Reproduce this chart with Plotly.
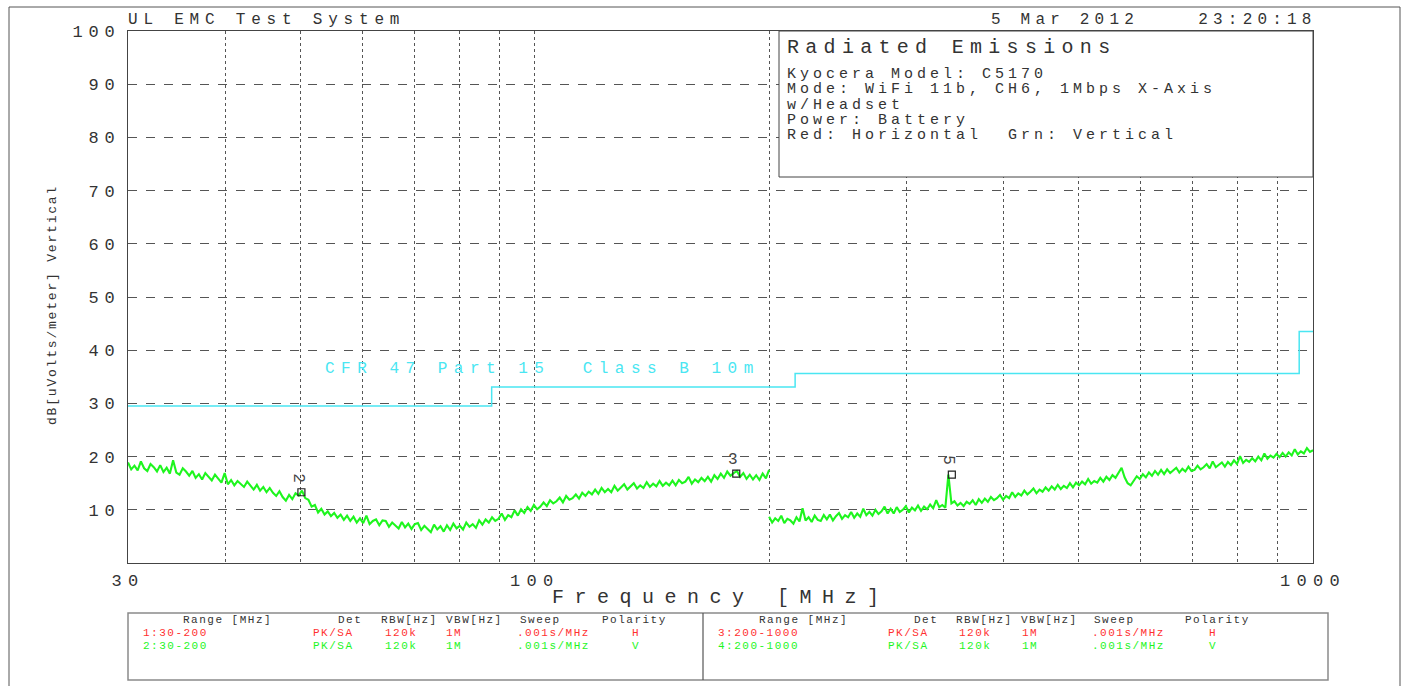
import numpy as np
import plotly.graph_objects as go

# ---------------- data ----------------
# Vertical polarity (green) sweep 30-200 MHz, dBuV/m
seg1_level = [
    18.9, 17.6, 18.3, 17.4, 19.1, 17.8, 17.3, 18.6, 18.0, 17.2,
    18.4, 17.1, 17.9, 16.8, 19.3, 17.0, 16.6, 17.8, 17.2, 16.4,
    17.3, 16.0, 16.7, 15.7, 16.9, 16.2, 15.5, 16.6, 15.9, 15.1,
    16.9, 14.8, 15.6, 14.6, 15.4, 14.9, 14.3, 15.3, 14.6, 13.8,
    14.7, 13.6, 14.3, 13.3, 14.1, 13.2, 12.6, 13.5, 12.4, 11.7,
    12.8, 12.0, 13.1, 12.7, 13.6, 12.2, 11.9, 10.6, 10.9, 9.5,
    10.2, 9.1, 9.7, 8.8, 9.4, 8.5, 9.1, 8.1, 8.9, 7.9,
    8.7, 7.6, 8.4, 7.5, 8.9, 7.3, 7.9, 8.2, 7.1, 8.0,
    7.9, 6.8, 7.6, 7.0, 6.5, 7.7, 6.7, 7.4, 6.4, 7.3,
    7.5, 6.2, 7.0, 6.4, 5.8, 7.2, 6.3, 6.9, 5.9, 7.1,
    6.2, 7.4, 6.5, 7.0, 6.3, 7.6, 6.8, 7.3, 6.6, 8.0,
    7.2, 8.2, 7.6, 8.6, 7.9, 8.3, 9.3, 8.1, 9.0, 8.6,
    9.9, 8.9, 10.1, 9.4, 10.5, 9.8, 10.9, 10.1, 10.6, 11.4,
    10.7, 11.8, 11.2, 11.6, 12.3, 11.4, 12.6, 11.9, 12.2, 12.9,
    12.1, 13.2, 12.6, 13.4, 12.9, 13.8, 13.0, 14.1, 13.3, 13.9,
    13.3, 14.5, 13.6, 14.2, 14.8, 13.8, 14.4, 15.0, 14.0, 14.6,
    14.1, 15.2, 14.3, 14.9, 14.4, 15.4, 14.5, 15.1, 14.6, 15.5,
    14.6, 15.6, 15.0, 15.3, 16.2, 14.9, 15.7, 15.2, 16.0, 15.4,
    16.2, 15.3, 16.5, 15.8, 16.8, 16.0, 17.2, 16.4, 16.9, 17.3,
    16.2, 16.9, 15.8, 16.6, 15.7, 16.5, 15.6, 16.8, 15.9, 17.5,
]
# Vertical polarity (green) sweep 200-1000 MHz, dBuV/m
seg2_level = [
    8.7, 7.6, 8.4, 7.9, 8.9, 7.5, 8.3, 8.0, 7.4, 8.6,
    7.8, 10.3, 8.0, 8.6, 7.7, 8.9, 8.1, 7.9, 9.0, 8.2,
    9.1, 8.0, 8.8, 9.4, 8.3, 9.0, 8.6, 9.6, 8.5, 9.3,
    8.7, 10.2, 9.0, 9.6, 8.9, 10.0, 9.2, 9.7, 10.6, 9.3,
    10.2, 9.3, 10.5, 9.6, 10.0, 10.7, 9.5, 10.4, 9.9, 10.8,
    9.8, 10.6, 10.1, 11.0, 10.3, 11.8, 10.5, 10.9, 10.4, 16.6,
    11.2, 11.6, 10.8, 11.3, 10.7, 11.5, 11.1, 11.8, 10.9, 12.0,
    11.3, 12.1, 11.5, 12.4, 11.8, 12.2, 12.8, 11.9, 12.6, 12.2,
    13.3, 12.4, 13.1, 12.7, 13.6, 12.9, 13.4, 14.0, 13.1, 13.8,
    13.4, 14.2, 13.6, 14.4, 13.8, 14.7, 13.9, 14.5, 14.1, 15.0,
    14.2, 15.1, 14.6, 15.3, 14.8, 15.8, 14.9, 15.4, 15.1, 16.0,
    15.3, 16.2, 15.6, 16.5, 16.0, 17.0, 17.9, 16.1, 15.0, 14.6,
    15.4, 16.3, 15.8, 16.7, 16.1, 17.0, 16.4, 17.3, 16.6, 17.5,
    16.7, 17.6, 16.9, 17.4, 17.9, 17.0, 17.7, 17.2, 18.1, 17.3,
    17.5, 18.3, 17.6, 18.0, 18.6, 17.8, 19.1, 18.0, 18.4, 18.9,
    18.1, 19.0, 18.4, 19.3, 18.6, 20.1, 18.8, 19.4, 19.0, 19.7,
    19.1, 20.0, 19.3, 20.6, 19.6, 20.2, 19.8, 20.5, 19.9, 20.7,
    20.0, 20.8, 20.2, 21.4, 20.4, 21.0, 20.6, 21.6, 20.9, 21.2,
]
seg1_start, seg1_stop = 30, 200
seg2_start, seg2_stop = 200, 1000

# CFR 47 Part 15 Class B 10 m limit
limit_freq = [30, 88, 216, 960, 1000]
limit_level = [29.5, 33.1, 35.6, 43.5, 43.5]

# Markers
marker_ids = ["2", "3", "5"]
marker_freq = [49.6, 179.6, 339.9]
marker_level = [13.3, 16.8, 16.6]
marker_angle = [90, 0, 90]

y_ticks = [10, 20, 30, 40, 50, 60, 70, 80, 90, 100]
x_grid = [30, 40, 50, 60, 70, 80, 90, 100, 200, 300, 400, 500, 600, 700, 800, 900, 1000]
x_labels = {30: "30", 100: "100", 1000: "1000"}

info_lines = ["Kyocera Model: C5170", "Mode: WiFi 11b, CH6, 1Mbps X-Axis",
              "w/Headset", "Power: Battery", "Red: Horizontal  Grn: Vertical"]

table_header = ["Range [MHz]", "Det", "RBW[Hz]", "VBW[Hz]", "Sweep", "Polarity"]
table_rows_left = [["1:30-200", "PK/SA", "120k", "1M", ".001s/MHz", "H"],
                   ["2:30-200", "PK/SA", "120k", "1M", ".001s/MHz", "V"]]
table_rows_right = [["3:200-1000", "PK/SA", "120k", "1M", ".001s/MHz", "H"],
                    ["4:200-1000", "PK/SA", "120k", "1M", ".001s/MHz", "V"]]

# ---------------- styling / layout helpers ----------------
W, H = 1404, 686
L, R, T, B = 128, 1313, 31, 563
MONO = "Liberation Mono, DejaVu Sans Mono, monospace"
INK = "#333333"
GREEN = "#1ef51e"
RED = "#ff3030"
CYAN = "#4ae6f2"


def px(x):
    return (x - L) / (R - L)


def py(y):
    return (B - y) / (B - T)


def sp(text, ls):
    return f'<span style="letter-spacing:{ls}px">{text}</span>'


fig = go.Figure()

seg1_freq = np.geomspace(seg1_start, seg1_stop, len(seg1_level))
seg2_freq = np.geomspace(seg2_start, seg2_stop, len(seg2_level))

fig.add_trace(go.Scatter(x=limit_freq, y=limit_level, mode="lines",
                         line=dict(color=CYAN, width=1.5, shape="hv"),
                         hoverinfo="skip", showlegend=False))
fig.add_trace(go.Scatter(x=seg1_freq, y=seg1_level, mode="lines",
                         line=dict(color=GREEN, width=2.1), showlegend=False))
fig.add_trace(go.Scatter(x=seg2_freq, y=seg2_level, mode="lines",
                         line=dict(color=GREEN, width=2.1), showlegend=False))

shapes = []
annotations = []

# marker boxes & labels
for mid, mf, ml, ma in zip(marker_ids, marker_freq, marker_level, marker_angle):
    shapes.append(dict(type="rect", xref="x", yref="y", xsizemode="pixel", ysizemode="pixel",
                       xanchor=mf, yanchor=ml, x0=-7, x1=7, y0=-3.5, y1=3.5,
                       line=dict(color="#222222", width=1.2), layer="above"))
    annotations.append(dict(x=np.log10(mf), y=ml, xref="x", yref="y", text=mid,
                            showarrow=False, textangle=ma, yshift=14,
                            font=dict(family=MONO, size=16, color="#444444")))

# outer frame
shapes.append(dict(type="rect", xref="paper", yref="paper", x0=px(9), x1=px(1400),
                   y0=py(700), y1=py(7), line=dict(color="#555555", width=1), layer="below"))
# info box
shapes.append(dict(type="rect", xref="paper", yref="paper", x0=px(779), x1=px(1313),
                   y0=py(177), y1=py(31), line=dict(color="#444444", width=1),
                   fillcolor="white", layer="above"))
# table box
shapes.append(dict(type="rect", xref="paper", yref="paper", x0=px(128), x1=px(1328),
                   y0=py(680), y1=py(613), line=dict(color="#8a8a8a", width=1.5), layer="above"))
shapes.append(dict(type="line", xref="paper", yref="paper", x0=px(703), x1=px(703),
                   y0=py(680), y1=py(613), line=dict(color="#555555", width=1.2), layer="above"))


def text_at(x, y, text, size, ls, color=INK, xanchor="left", angle=0):
    annotations.append(dict(x=px(x), y=py(y), xref="paper", yref="paper",
                            text=sp(text, ls), showarrow=False, xanchor=xanchor,
                            yanchor="middle", textangle=angle,
                            font=dict(family=MONO, size=size, color=color)))


text_at(126, 20, "UL EMC Test System", 16, 5.8)
text_at(1319, 20, "5 Mar 2012\u00a0\u00a0\u00a0\u00a023:20:18", 16, 5.2, xanchor="right")
text_at(785, 48, "Radiated Emissions", 20, 6.3)
for i, line in enumerate(info_lines):
    text_at(785, 74 + i * 15.5, line.replace("  ", "\u00a0\u00a0"), 15, 4.0)
text_at(323, 369, "CFR 47 Part 15\u00a0\u00a0Class B 10m", 16, 6.5, color=CYAN)
text_at(721, 597, "Frequency [MHz]", 20, 10.5, xanchor="center")
text_at(52, 305, "dB[uVolts/meter] Vertical", 13, 1.8, xanchor="center", angle=-90)

# table text
left_cols = [181, 336, 379, 444, 518, 600]
left_vals = [141, 311, 383, 444, 515, 630]
right_cols = [757, 912, 954, 1019, 1092, 1183]
right_vals = [716, 886, 957, 1020, 1090, 1207]
for cols, vals, rows in [(left_cols, left_vals, table_rows_left),
                         (right_cols, right_vals, table_rows_right)]:
    for cx, h in zip(cols, table_header):
        text_at(cx, 620, h, 11, 1.5)
    for r, (row, col) in enumerate(zip(rows, [RED, GREEN])):
        for vx, v in zip(vals, row):
            text_at(vx, 633 + r * 12.8, v, 11, 1.5, color=col)

fig.update_layout(
    width=W, height=H, autosize=False,
    margin=dict(l=L, r=W - R, t=T, b=H - B, pad=0),
    paper_bgcolor="white", plot_bgcolor="white",
    shapes=shapes, annotations=annotations, showlegend=False,
    font=dict(family=MONO, color=INK),
)
fig.update_xaxes(type="log", range=[np.log10(30), np.log10(1000)],
                 tickvals=x_grid, ticktext=[sp(x_labels.get(v, ""), 6.3) for v in x_grid],
                 tickfont=dict(family=MONO, size=17, color=INK), ticks="",
                 showgrid=True, gridcolor="#555555", gridwidth=1, griddash="dot",
                 showline=True, linecolor="#444444", linewidth=1, mirror=True,
                 zeroline=False, ticklabelstandoff=2)
fig.update_yaxes(range=[0, 100], tickvals=y_ticks, ticktext=[sp(str(v), 5.8) for v in y_ticks],
                 tickfont=dict(family=MONO, size=17, color=INK), ticks="",
                 showgrid=True, gridcolor="#555555", gridwidth=1, griddash="dash",
                 showline=True, linecolor="#444444", linewidth=1, mirror=True,
                 zeroline=False, ticklabelstandoff=3)

fig.write_html("out.html", config={"displayModeBar": False},
               post_script="document.body.style.margin='0';document.body.style.overflow='hidden';")
